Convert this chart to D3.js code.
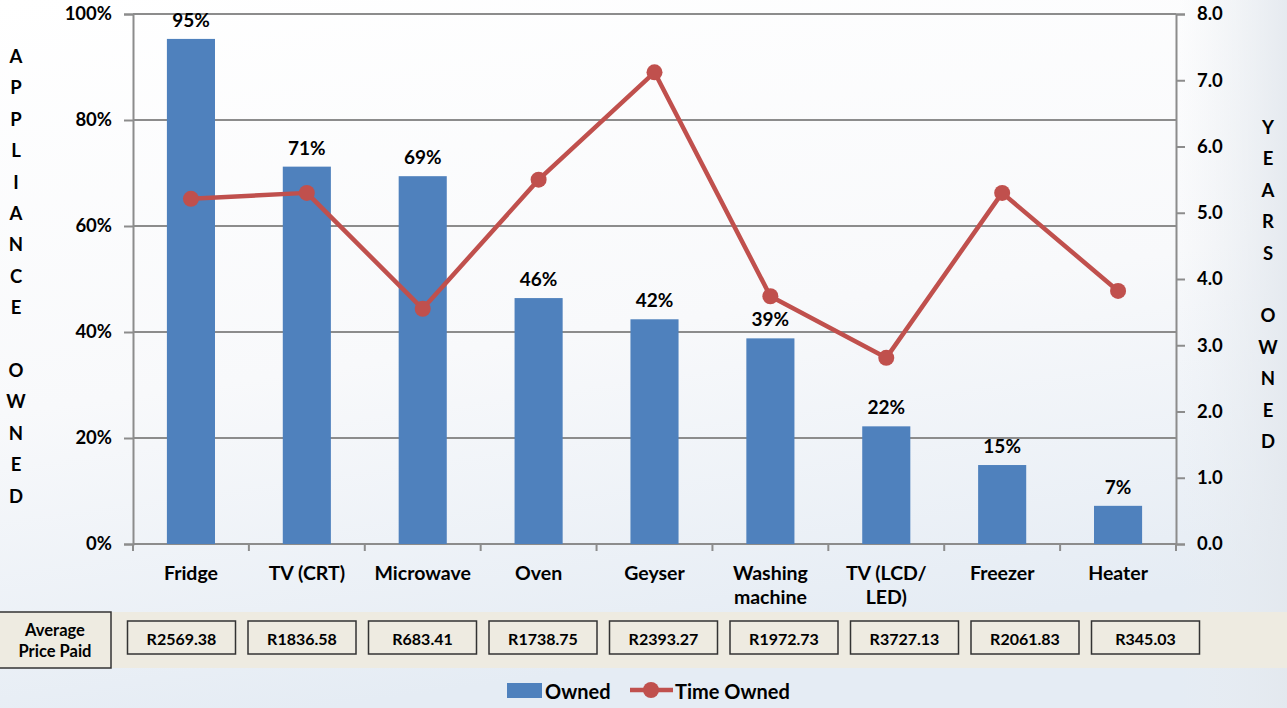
<!DOCTYPE html>
<html>
<head>
<meta charset="utf-8">
<script src="https://cdn.jsdelivr.net/npm/d3@7"></script>
<style>
  html, body { margin: 0; padding: 0; }
  body { width: 1287px; height: 708px; overflow: hidden; }
  svg { display: block; font-family: Lato, "Open Sans", sans-serif; font-weight: 700; }
</style>
</head>
<body>
<svg id="chart" width="1287" height="708"></svg>
<script>
// Appliance ownership survey
const categories = ["Fridge", "TV (CRT)", "Microwave", "Oven", "Geyser", "Washing machine", "TV (LCD/ LED)", "Freezer", "Heater"];
const categoryLines = [["Fridge"], ["TV (CRT)"], ["Microwave"], ["Oven"], ["Geyser"], ["Washing", "machine"], ["TV (LCD/", "LED)"], ["Freezer"], ["Heater"]];
const owned = [0.953, 0.712, 0.694, 0.464, 0.424, 0.388, 0.222, 0.149, 0.072];
const timeOwned = [5.21, 5.30, 3.55, 5.50, 7.12, 3.74, 2.81, 5.30, 3.82];
const avgPrice = ["R2569.38", "R1836.58", "R683.41", "R1738.75", "R2393.27", "R1972.73", "R3727.13", "R2061.83", "R345.03"];
const leftTicks = [0, 0.2, 0.4, 0.6, 0.8, 1.0];
const rightTicks = [0, 1, 2, 3, 4, 5, 6, 7, 8];
const leftTitle = "APPLIANCE OWNED";
const rightTitle = "YEARS OWNED";
const legendLabels = ["Owned", "Time Owned"];

const barColor = "#4F81BD";
const lineColor = "#C0504D";
const gridColor = "#8C8C8C";

const svg = d3.select("#chart");
const W = 1287, H = 708;
const plot = { left: 133, right: 1176, top: 14, bottom: 544 };

// Background wash
const defs = svg.append("defs");
const bg = defs.append("linearGradient").attr("id", "bg").attr("x1", 0).attr("y1", 0).attr("x2", 0.25).attr("y2", 1);
bg.append("stop").attr("offset", "0%").attr("stop-color", "#FFFFFF");
bg.append("stop").attr("offset", "55%").attr("stop-color", "#F8F9FB");
bg.append("stop").attr("offset", "100%").attr("stop-color", "#E5ECF4");
svg.append("rect").attr("width", W).attr("height", H).attr("fill", "url(#bg)");
const side = defs.append("linearGradient").attr("id", "side").attr("x1", 0).attr("y1", 0).attr("x2", 1).attr("y2", 0);
side.append("stop").attr("offset", "0%").attr("stop-color", "#E9EDF1").attr("stop-opacity", 0);
side.append("stop").attr("offset", "100%").attr("stop-color", "#E3E8EE").attr("stop-opacity", 0.9);
svg.append("rect").attr("x", 1180).attr("y", 0).attr("width", 107).attr("height", H).attr("fill", "url(#side)");

// Scales
const x = d3.scaleBand().domain(categories).range([plot.left, plot.right]).paddingInner(0.585).paddingOuter(0.2925);
const xStep = d3.scaleBand().domain(categories).range([plot.left, plot.right]);
const xPrice = d3.scaleBand().domain(categories).range([121.5, 1206]);
const yL = d3.scaleLinear().domain([0, 1]).range([plot.bottom, plot.top]);
const yR = d3.scaleLinear().domain([0, 8]).range([plot.bottom, plot.top]);

// Gridlines
svg.append("g").selectAll("line").data(leftTicks.filter(d => d > 0)).join("line")
  .attr("x1", plot.left).attr("x2", plot.right)
  .attr("y1", d => yL(d)).attr("y2", d => yL(d))
  .attr("stroke", gridColor).attr("stroke-width", 2);

// Left axis
const gL = svg.append("g").attr("transform", `translate(${plot.left},0)`)
  .call(d3.axisLeft(yL).tickValues(leftTicks).tickFormat(d3.format(".0%")).tickSize(9).tickPadding(12));
gL.select(".domain").attr("stroke", gridColor).attr("stroke-width", 2);
gL.selectAll(".tick line").attr("stroke", gridColor).attr("stroke-width", 2);
gL.selectAll(".tick text").attr("font-size", 18.5).attr("font-weight", 700).attr("fill", "#000").attr("font-family", "Lato, sans-serif");

// Right axis
const gR = svg.append("g").attr("transform", `translate(${plot.right},0)`)
  .call(d3.axisRight(yR).tickValues(rightTicks).tickFormat(d3.format(".1f")).tickSize(9).tickPadding(12));
gR.select(".domain").attr("stroke", gridColor).attr("stroke-width", 2);
gR.selectAll(".tick line").attr("stroke", gridColor).attr("stroke-width", 2);
gR.selectAll(".tick text").attr("font-size", 18.5).attr("font-weight", 700).attr("fill", "#000").attr("font-family", "Lato, sans-serif");

// Bottom axis with category boundary ticks
const gB = svg.append("g");
gB.append("line").attr("x1", plot.left).attr("x2", plot.right).attr("y1", plot.bottom).attr("y2", plot.bottom)
  .attr("stroke", gridColor).attr("stroke-width", 2);
gB.selectAll("line.tk").data(categories.concat([null])).join("line").attr("class", "tk")
  .attr("x1", (d, i) => plot.left + i * xStep.step()).attr("x2", (d, i) => plot.left + i * xStep.step())
  .attr("y1", plot.bottom).attr("y2", plot.bottom + 7)
  .attr("stroke", gridColor).attr("stroke-width", 2);

// Category labels
const catG = svg.append("g");
categories.forEach((c, i) => {
  const t = catG.append("text").attr("x", x(c) + x.bandwidth() / 2).attr("y", 580)
    .attr("text-anchor", "middle").attr("font-size", 19.5).attr("fill", "#000");
  categoryLines[i].forEach((ln, j) => t.append("tspan").attr("x", x(c) + x.bandwidth() / 2).attr("dy", j ? 24 : 0).text(ln));
});

// Bars
svg.append("g").selectAll("rect").data(owned).join("rect")
  .attr("x", (d, i) => x(categories[i]))
  .attr("width", x.bandwidth())
  .attr("y", d => yL(d))
  .attr("height", d => yL(0) - yL(d))
  .attr("fill", barColor);

// Bar value labels
svg.append("g").selectAll("text").data(owned).join("text")
  .attr("x", (d, i) => x(categories[i]) + x.bandwidth() / 2)
  .attr("y", d => yL(d) - 12)
  .attr("text-anchor", "middle").attr("font-size", 19).attr("fill", "#000")
  .text(d => d3.format(".0%")(d));

// Time owned line
const cx = i => x(categories[i]) + x.bandwidth() / 2;
const line = d3.line().x((d, i) => cx(i)).y(d => yR(d));
svg.append("path").datum(timeOwned).attr("d", line)
  .attr("fill", "none").attr("stroke", lineColor).attr("stroke-width", 4.5).attr("stroke-linejoin", "round");
svg.append("g").selectAll("circle").data(timeOwned).join("circle")
  .attr("cx", (d, i) => cx(i)).attr("cy", d => yR(d)).attr("r", 8)
  .attr("fill", lineColor);

// Vertical axis titles, one letter per row
function stackedTitle(str, xPos, yStart, gap) {
  const g = svg.append("g");
  [...str].forEach((ch, i) => {
    if (ch === " ") return;
    g.append("text").attr("x", xPos).attr("y", yStart + i * gap).attr("text-anchor", "middle")
      .attr("dominant-baseline", "central").attr("font-size", 18.5).attr("fill", "#000").text(ch);
  });
}
stackedTitle(leftTitle, 16, 56, 31.4);
stackedTitle(rightTitle, 1268, 127, 31.4);

// Average price row
const priceG = svg.append("g");
priceG.append("rect").attr("x", 0).attr("y", 612).attr("width", W).attr("height", 56).attr("fill", "#EEEBE1");
priceG.append("rect").attr("x", -1).attr("y", 612).attr("width", 112).attr("height", 56)
  .attr("fill", "#EEEBE1").attr("stroke", "#333").attr("stroke-width", 1.5);
const hdr = priceG.append("text").attr("x", 55).attr("y", 636).attr("text-anchor", "middle").attr("font-size", 16.5).attr("fill", "#000");
hdr.append("tspan").attr("x", 55).attr("dy", 0).text("Average");
hdr.append("tspan").attr("x", 55).attr("dy", 21).text("Price Paid");
const boxW = 108;
avgPrice.forEach((p, i) => {
  const left = xPrice(categories[i]) + 6;
  priceG.append("rect").attr("x", left).attr("y", 621).attr("width", boxW).attr("height", 33)
    .attr("fill", "#EEEBE1").attr("stroke", "#333").attr("stroke-width", 1.5);
  priceG.append("text").attr("x", left + boxW / 2).attr("y", 638).attr("text-anchor", "middle")
    .attr("dominant-baseline", "central").attr("font-size", 16).attr("fill", "#000").text(p);
});

// Legend
const lg = svg.append("g");
lg.append("rect").attr("x", 507).attr("y", 683).attr("width", 35).attr("height", 15).attr("fill", barColor);
lg.append("text").attr("x", 545).attr("y", 691).attr("dominant-baseline", "central").attr("font-size", 20).attr("fill", "#000").text(legendLabels[0]);
lg.append("line").attr("x1", 630).attr("x2", 673).attr("y1", 690).attr("y2", 690).attr("stroke", lineColor).attr("stroke-width", 4.5);
lg.append("circle").attr("cx", 651).attr("cy", 690).attr("r", 8).attr("fill", lineColor);
lg.append("text").attr("x", 675).attr("y", 691).attr("dominant-baseline", "central").attr("font-size", 20).attr("fill", "#000").text(legendLabels[1]);
</script>
</body>
</html>
